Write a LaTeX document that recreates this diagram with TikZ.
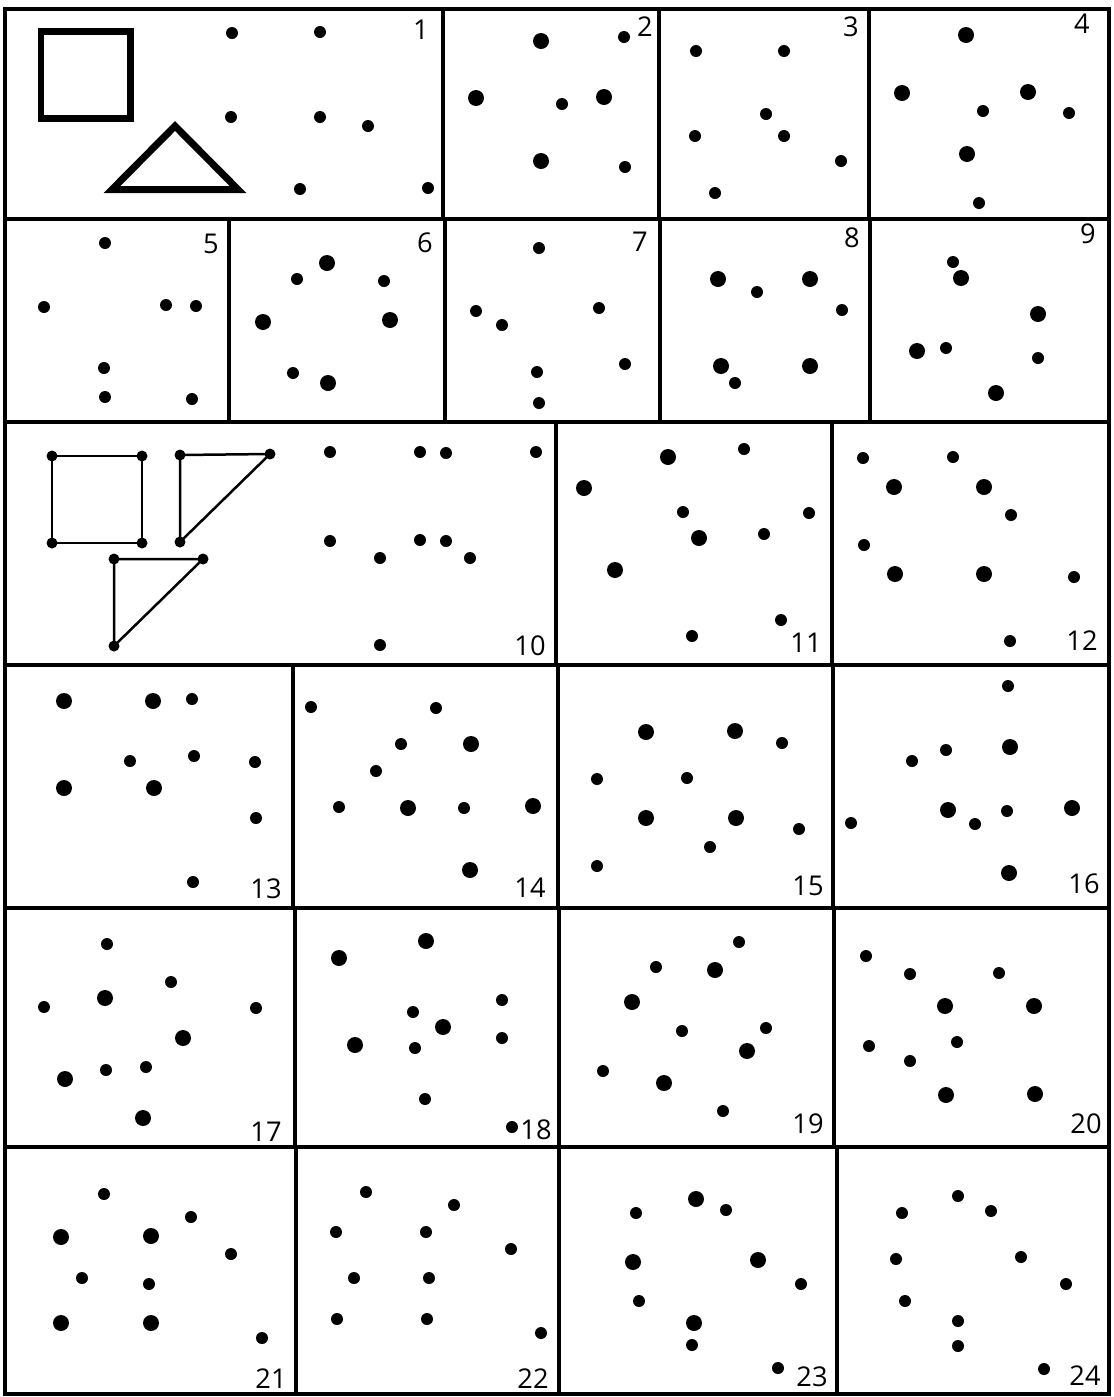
\documentclass[tikz,border=0pt]{standalone}
\usepackage{fontspec}
\setmainfont{Open Sans}
\usepackage{tikz}

\begin{document}
\begin{tikzpicture}[
  x=0.02cm,y=-0.02cm,
  frame/.style={line width=0.08cm},
  grid/.style={line width=0.07cm},
  model/.style={line width=0.14cm,line join=miter},
  joined/.style={line width=0.05cm},
  num/.style={font=\fontsize{15.5}{17}\selectfont,inner sep=0pt}
]
\useasboundingbox (0,0) rectangle (1114,1397);
\fill[white] (0,0) rectangle (1114,1397);

% frame and panels
\draw[frame] (5,9) rectangle (1109,1394);
\draw[grid] (5,219) -- (1109,219);
\draw[grid] (5,422) -- (1109,422);
\draw[grid] (5,665) -- (1109,665);
\draw[grid] (5,908) -- (1109,908);
\draw[grid] (5,1147) -- (1109,1147);
\foreach \x in {443,659,869} \draw[grid] (\x,9) -- (\x,219);
\foreach \x in {229,445,660,870} \draw[grid] (\x,219) -- (\x,422);
\foreach \x in {556,832} \draw[grid] (\x,422) -- (\x,665);
\foreach \x in {293,558,833} \draw[grid] (\x,665) -- (\x,908);
\foreach \x in {295,559,834} \draw[grid] (\x,908) -- (\x,1147);
\foreach \x in {296,559,837} \draw[grid] (\x,1147) -- (\x,1394);

% models
\draw[model] (41,31.5) rectangle (130.5,118.5);
\draw[model] (175,126) -- (238,189.5) -- (112,189.5) -- cycle;
\draw[joined] (52,456) rectangle (142,543);
\draw[joined] (180,455) -- (270,454) -- (180,542) -- cycle;
\draw[joined] (114,559) -- (203,559) -- (114,646) -- cycle;
\foreach \x/\y in {52/456,142/456,52/543,142/543,180/455,270/454,180/542,114/559,203/559,114/646}
  \fill (\x,\y) circle (0.11cm);

% small dots
\foreach \x/\y in {232/33,320/32,231/117,320/117,368/126,300/189,428/188,
  562/104,624/37,625/167,
  696/51,784/51,766/114,695/136,784/136,841/161,715/193,
  983/111,1069/113,979/203,
  105/243,44/307,166/305,196/306,104/368,105/397,192/399,
  297/279,384/281,293/373,
  539/248,476/311,502/325,537/372,539/403,599/308,625/364,
  757/292,842/310,735/383,
  953/262,946/348,1038/358,
  330/452,420/452,446/453,536/452,330/541,420/540,446/541,380/558,470/558,380/645,
  744/449,683/512,809/513,764/534,781/620,692/636,
  863/458,953/457,1011/515,864/545,1074/577,1010/641,
  192/699,130/761,194/756,255/762,256/818,193/882,
  311/707,436/708,401/744,376/771,339/807,464/808,
  782/743,597/779,687/778,799/829,710/847,597/866,
  1008/686,946/750,912/761,975/824,1007/811,851/823,
  107/944,171/982,44/1007,256/1008,106/1070,146/1067,
  502/1000,413/1012,415/1048,502/1038,425/1099,512/1127,
  739/942,656/967,682/1031,766/1028,603/1071,723/1111,
  866/956,910/974,999/973,869/1046,957/1042,910/1061,
  104/1194,191/1217,231/1254,82/1278,149/1284,262/1338,
  366/1192,454/1205,336/1232,426/1232,511/1249,354/1278,429/1278,337/1319,427/1319,541/1333,
  636/1213,726/1210,801/1284,639/1301,692/1345,778/1368,
  958/1196,902/1213,991/1211,896/1259,1021/1257,1066/1284,905/1301,958/1321,958/1346,1044/1369}
  \fill (\x,\y) circle (0.12cm);

% large dots
\foreach \x/\y in {541/41,476/98,604/97,541/161,
  966/35,902/93,1028/92,967/154,
  327/263,263/322,390/320,328/383,
  718/279,810/279,721/366,810/366,
  961/278,1038/314,917/351,996/393,
  668/457,584/488,699/538,615/570,
  894/487,984/487,895/574,984/574,
  64/701,153/701,64/788,154/788,
  471/744,408/808,533/806,470/870,
  646/732,735/731,646/818,736/818,
  1010/747,948/810,1072/808,1009/873,
  105/998,183/1038,65/1079,143/1118,
  426/941,339/958,443/1027,355/1045,
  715/970,632/1002,747/1051,664/1083,
  945/1006,1034/1006,946/1095,1035/1094,
  61/1237,151/1236,61/1323,151/1323,
  696/1199,633/1262,758/1260,694/1323}
  \fill (\x,\y) circle (0.16cm);

% numbers
\foreach \n/\x/\y in {1/421/30,2/645/27,3/851/27,4/1082/24,
  5/211/244,6/425/243,7/640/242,8/852/238,9/1088/234,
  10/530/646,11/806/643,12/1082/641,
  13/266/889,14/530/888,15/808/886,16/1084/884,
  17/266/1132,18/536/1130,19/808/1124,20/1086/1124,
  21/271/1379,22/533/1379,23/812/1377,24/1085/1376}
  \node[num] (n\n) at (\x,\y) {\n};
\end{tikzpicture}
\end{document}
